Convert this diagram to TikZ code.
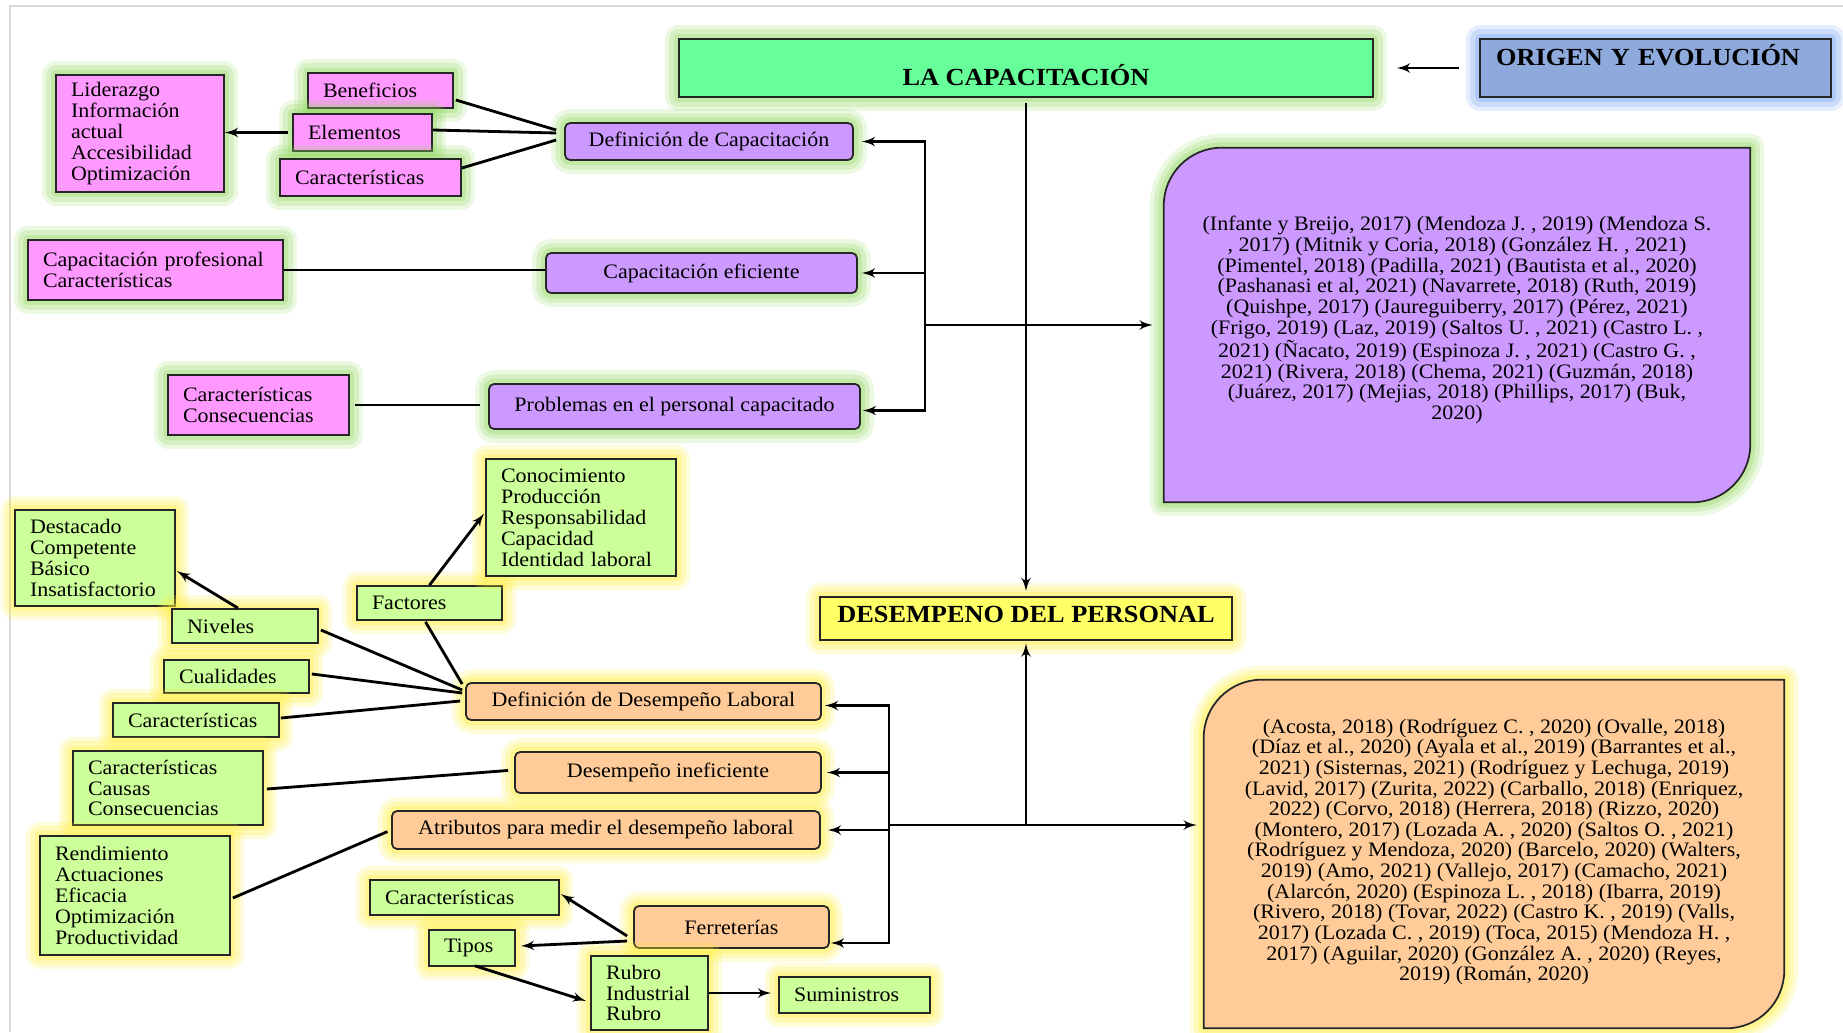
\documentclass[tikz,border=0pt]{standalone}
\usepackage{fontspec}
\setmainfont{Liberation Serif}[FakeStretch=1.07]
\usepackage{tikz}
\usetikzlibrary{arrows, positioning, calc, backgrounds}
\usepackage{xcolor}

\definecolor{pinkfill}{HTML}{FF99FF}
\definecolor{purplefill}{HTML}{CC99FF}
\definecolor{limefill}{HTML}{CCFF99}
\definecolor{peachfill}{HTML}{FFCC99}
\definecolor{mintfill}{HTML}{66FF99}
\definecolor{yellowfill}{HTML}{FFFF66}
\definecolor{bluefill}{HTML}{8EA9DB}
\definecolor{greenglow}{HTML}{8ED65C}
\definecolor{yellowglow}{HTML}{FFEE3A}
\definecolor{blueglow}{HTML}{6F9FF2}
\definecolor{framegray}{HTML}{D9D9D9}

\begin{document}
\begin{tikzpicture}[
    x=0.02cm, y=-0.02cm,
    halo/.style={preaction={draw=#1, line width=16pt, line join=round, draw opacity=0.18},
                 preaction={draw=#1, line width=11pt, line join=round, draw opacity=0.22},
                 preaction={draw=#1, line width=6pt, line join=round, draw opacity=0.3}},
    box/.style={rectangle, draw=black!85, line width=1pt, inner sep=0pt, font=\fontsize{11.7}{11.9}\selectfont},
    pinkbox/.style={box, fill=pinkfill, align=left, inner xsep=0.3cm, halo=greenglow},
    limebox/.style={box, fill=limefill, align=left, inner xsep=0.3cm, halo=yellowglow},
    purplebox/.style={box, fill=purplefill, rounded corners=0.1cm, align=center, halo=greenglow},
    peachbox/.style={box, fill=peachfill, rounded corners=0.1cm, align=center, halo=yellowglow},
    headbox/.style={box, line width=1.1pt, font=\fontsize{14}{16}\selectfont\bfseries},
    citebox/.style={inner sep=0pt, align=center, font=\fontsize{11.7}{11.75}\selectfont},
    link/.style={draw, line width=1.6pt},
    linkarrow/.style={link, -latex'}
]
    \useasboundingbox (0,0) rectangle (1843,1032);
    \draw[framegray, line width=1.2pt] (10,1032) -- (10,6) -- (1843,6);

    % Main topics
    \node[headbox, fill=mintfill, halo=greenglow, minimum width=13.88cm, text height=0.92cm, text depth=0.24cm] (lacap) at (1026,68) {LA CAPACITACIÓN};
    \node[headbox, fill=bluefill, halo=blueglow, inner xsep=0.32cm, text width=6.38cm, align=left, text height=0.52cm, text depth=0.64cm] (origen) at (1655.5,68) {ORIGEN Y EVOLUCIÓN};
    \node[headbox, fill=yellowfill, halo=yellowglow, minimum width=8.24cm, text height=0.5cm, text depth=0.36cm] (desemp) at (1026,618.5) {DESEMPENO DEL PERSONAL};

    % Capacitacion branch
    \node[purplebox, minimum width=5.76cm, minimum height=0.74cm] (defcap) at (709,141.5) {Definición de Capacitación};
    \node[purplebox, minimum width=6.22cm, minimum height=0.8cm] (capefic) at (701.5,273) {Capacitación eficiente};
    \node[purplebox, minimum width=7.42cm, minimum height=0.9cm] (problemas) at (674.5,406.5) {Problemas en el personal capacitado};
    \node[pinkbox, text width=2.76cm, minimum height=2.34cm] (liderazgo) at (140,133.5) {Liderazgo\\Información\\actual\\Accesibilidad\\Optimización};
    \node[pinkbox, text width=2.3cm, minimum height=0.7cm] (benef) at (380.5,90.5) {Beneficios};
    \node[pinkbox, text width=2.18cm, minimum height=0.74cm] (elem) at (362.5,132.5) {Elementos};
    \node[pinkbox, text width=3.02cm, minimum height=0.74cm] (caractA) at (370.5,177.5) {Características};
    \node[pinkbox, text width=4.5cm, minimum height=1.2cm] (capprof) at (155.5,270) {Capacitación profesional\\Características};
    \node[pinkbox, text width=3.02cm, minimum height=1.2cm] (carcons) at (258.5,405) {Características\\Consecuencias};

    % Desempeno branch
    \node[peachbox, minimum width=7.1cm, minimum height=0.74cm] (defdes) at (643.5,701.5) {Definición de Desempeño Laboral};
    \node[peachbox, minimum width=6.12cm, minimum height=0.82cm] (desine) at (668,772.5) {Desempeño ineficiente};
    \node[peachbox, minimum width=8.56cm, minimum height=0.76cm] (atrib) at (606,830) {Atributos para medir el desempeño laboral};
    \node[peachbox, minimum width=3.9cm, minimum height=0.84cm] (ferr) at (731.5,927) {Ferreterías};
    \node[limebox, text width=2.6cm, minimum height=1.92cm] (destacado) at (95,558) {Destacado\\Competente\\Básico\\Insatisfactorio};
    \node[limebox, text width=2.32cm, minimum height=0.68cm] (niveles) at (245,626) {Niveles};
    \node[limebox, text width=2.3cm, minimum height=0.68cm] (factores) at (429.5,603) {Factores};
    \node[limebox, text width=3.2cm, minimum height=2.34cm] (conoc) at (581,517.5) {Conocimiento\\Producción\\Responsabilidad\\Capacidad\\Identidad laboral};
    \node[limebox, text width=2.3cm, minimum height=0.66cm] (cualid) at (236.5,676.5) {Cualidades};
    \node[limebox, text width=2.72cm, minimum height=0.68cm] (caractB) at (196,720) {Características};
    \node[limebox, text width=3.2cm, minimum height=1.48cm] (carcaucons) at (168,788) {Características\\Causas\\Consecuencias};
    \node[limebox, text width=3.2cm, minimum height=2.38cm] (rendim) at (135,895.5) {Rendimiento\\Actuaciones\\Eficacia\\Optimización\\Productividad};
    \node[limebox, text width=3.18cm, minimum height=0.7cm] (caractC) at (464.5,897.5) {Características};
    \node[limebox, text width=1.12cm, minimum height=0.72cm] (tipos) at (472,948) {Tipos};
    \node[limebox, text width=1.74cm, minimum height=1.48cm] (rubro) at (649.5,993) {Rubro\\Industrial\\Rubro};
    \node[limebox, text width=2.42cm, minimum height=0.72cm] (sumin) at (854.5,995) {Suministros};

    % Citations
    \node[citebox, minimum width=11.72cm, minimum height=7.08cm] (citasA) at (1457,320) {(Infante y Breijo, 2017) (Mendoza J. , 2019) (Mendoza S.\\, 2017) (Mitnik y Coria, 2018) (González H. , 2021)\\(Pimentel, 2018) (Padilla, 2021) (Bautista et al., 2020)\\(Pashanasi et al, 2021) (Navarrete, 2018) (Ruth, 2019)\\(Quishpe, 2017) (Jaureguiberry, 2017) (Pérez, 2021)\\(Frigo, 2019) (Laz, 2019) (Saltos U. , 2021) (Castro L. ,\\2021) (Ñacato, 2019) (Espinoza J. , 2021) (Castro G. ,\\2021) (Rivera, 2018) (Chema, 2021) (Guzmán, 2018)\\(Juárez, 2017) (Mejias, 2018) (Phillips, 2017) (Buk,\\2020)};
    \node[citebox, minimum width=11.6cm, minimum height=6.96cm] (citasB) at (1494,852) {(Acosta, 2018) (Rodríguez C. , 2020) (Ovalle, 2018)\\(Díaz et al., 2020) (Ayala et al., 2019) (Barrantes et al.,\\2021) (Sisternas, 2021) (Rodríguez y Lechuga, 2019)\\(Lavid, 2017) (Zurita, 2022) (Carballo, 2018) (Enriquez,\\2022) (Corvo, 2018) (Herrera, 2018) (Rizzo, 2020)\\(Montero, 2017) (Lozada A. , 2020) (Saltos O. , 2021)\\(Rodríguez y Mendoza, 2020) (Barcelo, 2020) (Walters,\\2019) (Amo, 2021) (Vallejo, 2017) (Camacho, 2021)\\(Alarcón, 2020) (Espinoza L. , 2018) (Ibarra, 2019)\\(Rivero, 2018) (Tovar, 2022) (Castro K. , 2019) (Valls,\\2017) (Lozada C. , 2019) (Toca, 2015) (Mendoza H. ,\\2017) (Aguilar, 2020) (González A. , 2020) (Reyes,\\2019) (Román, 2020)};
    \begin{scope}[on background layer]
        \draw[fill=purplefill, draw=black!85, line width=1pt, halo=greenglow] ([yshift=-1.26cm]citasA.north west) arc[start angle=180, end angle=90, radius=1.16cm] -- ([yshift=-0.1cm]citasA.north east) -- ([yshift=1.06cm]citasA.south east) arc[start angle=0, end angle=-90, radius=1.16cm] -- ([yshift=-0.1cm]citasA.south west) -- cycle;
        \draw[fill=peachfill, draw=black!85, line width=1pt, halo=yellowglow] ([yshift=-1.2cm]citasB.north west) arc[start angle=180, end angle=90, radius=1.16cm] -- ([yshift=-0.04cm]citasB.north east) -- ([yshift=1.12cm]citasB.south east) arc[start angle=0, end angle=-90, radius=1.16cm] -- ([yshift=-0.04cm]citasB.south west) -- cycle;
    \end{scope}

    % Relationships
    \coordinate (hubA) at (925,325);
    \coordinate (hubB) at (889,825);
    \draw[linkarrow, shorten <=0.4cm, shorten >=0.46cm] (origen.west) -- (lacap.east);
    \draw[linkarrow, shorten <=0.1cm, shorten >=0.1cm] (lacap.south) -- (desemp.north);
    \draw[linkarrow, shorten >=0.22cm] (hubA) -- (hubA -| citasA.west);
    \draw[linkarrow, shorten >=0.16cm] (hubA) |- (defcap.east);
    \draw[linkarrow, shorten >=0.08cm] (hubA) |- (capefic.east);
    \draw[linkarrow, shorten >=0.04cm] (hubA) |- ($(problemas.east)+(0,4)$);
    \draw[linkarrow, shorten >=0.14cm] (hubB) -- (hubB -| citasB.west);
    \draw[linkarrow, shorten >=0.05cm] (hubB -| desemp.south) -- (desemp.south);
    \draw[linkarrow, shorten >=0.06cm] (hubB) |- ($(defdes.east)+(0,4)$);
    \draw[linkarrow, shorten >=0.1cm] (hubB) |- (desine.east);
    \draw[linkarrow, shorten >=0.14cm] (hubB) |- (atrib.east);
    \draw[linkarrow, shorten >=0.02cm] (hubB) |- ($(ferr.east)+(0,16)$);

    \draw[linkarrow, shorten <=0.08cm] (elem.west) -- (elem.west -| liderazgo.east);
    \draw[link] ($(benef.east)+(2,9.5)$) -- ($(defcap.west)+(-8,-11.5)$);
    \draw[link] ($(elem.east)+(0,-2.5)$) -- ($(defcap.west)+(-8,-8.5)$);
    \draw[link] ($(caractA.east)+(0,-9.5)$) -- ($(defcap.west)+(-8,-1.5)$);
    \draw[link] (capprof.east) -- (capprof.east -| capefic.west);
    \draw[link, shorten <=0.1cm, shorten >=0.16cm] (carcons.east) -- (carcons.east -| problemas.west);

    \draw[linkarrow] ($(niveles.north)+(-7,0)$) -- ($(destacado.east)+(1,13)$);
    \draw[linkarrow] (factores.north) -- ($(conoc.west)+(-1,-4)$);
    \draw[link] ($(niveles.east)+(2,4)$) -- ($(defdes.west)+(-3,-11.5)$);
    \draw[link] ($(factores.south)+(-4,1)$) -- ($(defdes.west)+(-3,-17.5)$);
    \draw[link] ($(cualid.east)+(2,-2.5)$) -- ($(defdes.west)+(-3,-8.5)$);
    \draw[link] ($(caractB.east)+(1,-2)$) -- ($(defdes.west)+(-5,-0.5)$);
    \draw[link, shorten >=0.12cm] ($(carcaucons.east)+(3,1)$) -- ($(desine.west)+(0,-2.5)$);
    \draw[link, shorten >=0.08cm] ($(rendim.east)+(2,2.5)$) -- (atrib.west);
    \draw[linkarrow] ($(ferr.west)+(-6,9)$) -- ($(caractC.east)+(1,-3.5)$);
    \draw[linkarrow] ($(ferr.west)+(-6,14)$) -- ($(tipos.east)+(5,-2)$);
    \draw[linkarrow] ($(tipos.south)+(3,-1)$) -- ($(rubro.west)+(-4,8)$);
    \draw[linkarrow, shorten >=0.14cm] (rubro.east) -- (rubro.east -| sumin.west);
\end{tikzpicture}
\end{document}
